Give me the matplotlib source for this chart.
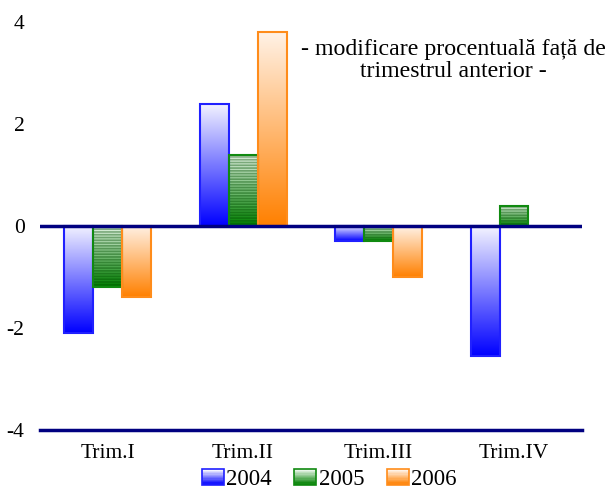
import matplotlib as mpl
mpl.use('Agg')
import matplotlib.pyplot as plt
import numpy as np
from matplotlib.colors import LinearSegmentedColormap
from matplotlib.patches import Rectangle
from matplotlib.legend_handler import HandlerBase

plt.rcParams['font.family'] = ['Liberation Serif', 'DejaVu Serif']
plt.rcParams['hatch.linewidth'] = 1.2

# date
trimestre = ['Trim.I', 'Trim.II', 'Trim.III', 'Trim.IV']
ani = ['2004', '2005', '2006']
v2004 = [-2.1, 2.4, -0.3, -2.55]
v2005 = [-1.2, 1.4, -0.3, 0.4]
v2006 = [-1.4, 3.8, -1.0, 0.0]
valori = [v2004, v2005, v2006]

# culori: (sus, jos, contur)
culori = [('#f4f4ff', '#0000ff', '#2020ff'),
          ('#e8f5e8', '#008000', '#108a10'),
          ('#fff2e6', '#ff8000', '#ff8c1a')]

fig = plt.figure(figsize=(6.13, 4.93), dpi=100)
ax = fig.add_axes([0.065, 0.128, 0.884, 0.827])

x = np.arange(len(trimestre))
w = 0.214
grad = np.linspace(0, 1, 256).reshape(-1, 1)

for i, (vals, (c_sus, c_jos, c_edge)) in enumerate(zip(valori, culori)):
    cmap = LinearSegmentedColormap.from_list('g%d' % i, [c_sus, c_jos])
    bars = ax.bar(x + (i - 1) * w, vals, w, facecolor='none',
                  edgecolor=c_edge, linewidth=1.5, zorder=3)
    for b in bars:
        if b.get_height() == 0:
            b.set_visible(False)
            continue
        x0, y0 = b.get_x(), b.get_y()
        x1, y1 = x0 + b.get_width(), y0 + b.get_height()
        im = ax.imshow(grad, cmap=cmap, aspect='auto', origin='upper',
                       extent=[x0, x1, min(y0, y1), max(y0, y1)], zorder=2)
        im.set_clip_path(b)
        if i == 1:
            # hasura orizontala pe barele verzi
            h = Rectangle((x0, y0), b.get_width(), b.get_height(),
                          facecolor='none', edgecolor=(0, 0.3, 0, 0.4),
                          hatch='------', linewidth=0, zorder=2.5)
            ax.add_patch(h)

ax.axhline(0, color='#000080', linewidth=2.5, zorder=5)
ax.axhline(-4, color='#000080', linewidth=2.5, zorder=5, clip_on=False)

ax.set_xlim(-0.5, 3.5)
ax.set_ylim(-4, 4)
ax.set_yticks([-4, -2, 0, 2, 4])
ax.set_yticklabels(['-4', '-2', '0', '2', '4'])
ax.set_xticks(x)
ax.set_xticklabels(trimestre)
ax.tick_params(axis='y', length=0, pad=11, labelsize=15.5)
ax.tick_params(axis='x', length=0, pad=10, labelsize=15.5)
for s in ax.spines.values():
    s.set_visible(False)

ax.text(0.763, 0.907, '- modificare procentuală față de\ntrimestrul anterior -',
        transform=ax.transAxes, ha='center', va='center', fontsize=17.2,
        linespacing=1.05, zorder=6)


class GradHandler(HandlerBase):
    def __init__(self, c_sus, c_jos, c_edge):
        super().__init__()
        self.c = (c_sus, c_jos, c_edge)

    def create_artists(self, legend, orig_handle, xdescent, ydescent,
                       width, height, fontsize, trans):
        c_sus, c_jos, c_edge = self.c
        cmap = LinearSegmentedColormap.from_list('lg', [c_sus, c_jos])
        n = 12
        arts = []
        for k in range(n):
            r = Rectangle((-xdescent, -ydescent + height * (n - 1 - k) / n),
                          width, height / n, facecolor=cmap(k / (n - 1)),
                          edgecolor='none', transform=trans)
            arts.append(r)
        arts.append(Rectangle((-xdescent, -ydescent), width, height,
                              facecolor='none', edgecolor=c_edge,
                              linewidth=1.2, transform=trans))
        return arts


handles = [Rectangle((0, 0), 1, 1) for _ in ani]
hmap = {h: GradHandler(*c) for h, c in zip(handles, culori)}
fig.legend(handles, ani, handler_map=hmap, loc='center',
           bbox_to_anchor=(0.537, 0.027), ncol=3, frameon=False,
           fontsize=16.5, handlelength=0.95, handleheight=0.65,
           handletextpad=0.1, columnspacing=1.0, borderpad=0.1)

fig.savefig('out.png', dpi=100)
